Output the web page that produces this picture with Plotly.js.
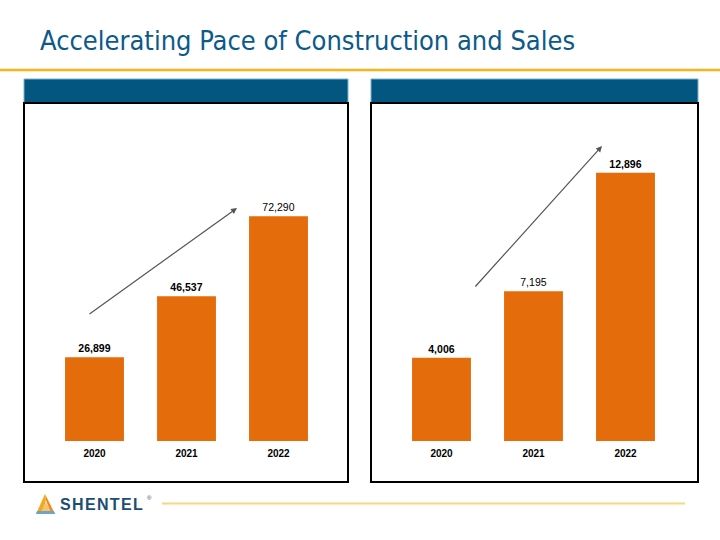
<!DOCTYPE html>
<html><head><meta charset="utf-8">
<script src="https://cdn.plot.ly/plotly-3.0.1.min.js"></script>
<style>html,body{margin:0;padding:0;background:#fff}</style>
</head><body>
<div id="chart" style="width:720px;height:540px"></div>
<script>
// ---- data ----
const years = ['2020', '2021', '2022'];
const leftValues = [26899, 46537, 72290];
const rightValues = [4006, 7195, 12896];
const leftBold = [true, true, false];
const rightBold = [true, false, true];
const chartTitle = 'Accelerating Pace of Construction and Sales';
const logoText = 'SHENTEL';

const W = 720, H = 540;
const px = v => v / W;
const py = v => 1 - v / H;
const fmt = v => v.toLocaleString('en-US');
const lbl = (vals, bold) => vals.map((v, i) => bold[i] ? '<b>' + fmt(v) + '</b>' : fmt(v));

const orange = '#E46C0A';
const font = 'Liberation Sans, Arial, sans-serif';

const traces = [
  {type: 'bar', x: years, y: leftValues, xaxis: 'x', yaxis: 'y',
   marker: {color: orange}, width: 0.64,
   text: lbl(leftValues, leftBold), textposition: 'outside', cliponaxis: false,
   textfont: {family: font, size: 10.5, color: '#000'}, hoverinfo: 'x+y'},
  {type: 'bar', x: years, y: rightValues, xaxis: 'x2', yaxis: 'y2',
   marker: {color: orange}, width: 0.64,
   text: lbl(rightValues, rightBold), textposition: 'outside', cliponaxis: false,
   textfont: {family: font, size: 10.5, color: '#000'}, hoverinfo: 'x+y'}
];

const xax = dom => ({domain: dom, type: 'category', range: [-0.5, 2.5], showgrid: false,
  zeroline: false, showline: false, ticks: '', fixedrange: true, ticklabelstandoff: 5,
  tickfont: {family: font, size: 10, color: '#000', weight: 'bold'}});
const yax = (dom, max) => ({domain: dom, range: [0, max], showgrid: false, zeroline: false,
  showline: false, showticklabels: false, ticks: '', fixedrange: true});

const layout = {
  width: W, height: H, margin: {l: 0, r: 0, t: 0, b: 0},
  paper_bgcolor: '#fff', plot_bgcolor: 'rgba(0,0,0,0)', showlegend: false,
  bargap: 0.36,
  xaxis: xax([px(48.5), px(324.5)]),
  yaxis: yax([py(441), py(130)], 100000),
  xaxis2: xax([px(395.5), px(671.5)]),
  yaxis2: yax([py(441), py(129)], 15000),
  shapes: [
    {type: 'line', xref: 'paper', yref: 'paper', x0: 0, x1: 1, y0: py(70), y1: py(70),
     line: {color: '#F5B41A', width: 2.5}},
    {type: 'rect', xref: 'paper', yref: 'paper', x0: px(24), x1: px(348), y0: py(103), y1: py(79),
     fillcolor: '#02567F', line: {color: '#7AB0D0', width: 1}},
    {type: 'rect', xref: 'paper', yref: 'paper', x0: px(371), x1: px(698), y0: py(103), y1: py(79),
     fillcolor: '#02567F', line: {color: '#7AB0D0', width: 1}},
    {type: 'rect', xref: 'paper', yref: 'paper', x0: px(24), x1: px(348), y0: py(482), y1: py(103),
     line: {color: '#000', width: 2}},
    {type: 'rect', xref: 'paper', yref: 'paper', x0: px(371), x1: px(698), y0: py(482), y1: py(103),
     line: {color: '#000', width: 2}},
    {type: 'line', xref: 'paper', yref: 'paper', x0: px(162), x1: px(685), y0: py(503.5), y1: py(503.5),
     line: {color: '#FAD67C', width: 2}},
    // logo triangle
    {type: 'path', xref: 'paper', yref: 'paper',
     path: `M ${px(45)} ${py(494)} L ${px(36)} ${py(514)} L ${px(42)} ${py(514)} L ${px(46)} ${py(500)} Z`,
     fillcolor: '#F5A81C', line: {width: 0}},
    {type: 'path', xref: 'paper', yref: 'paper',
     path: `M ${px(45)} ${py(494)} L ${px(55)} ${py(514)} L ${px(51)} ${py(514)} L ${px(46)} ${py(500)} Z`,
     fillcolor: '#F08A1C', line: {width: 0}},
    {type: 'path', xref: 'paper', yref: 'paper',
     path: `M ${px(46)} ${py(502)} L ${px(40)} ${py(514)} L ${px(52)} ${py(514)} Z`,
     fillcolor: '#F7C46A', line: {width: 0}},
    {type: 'path', xref: 'paper', yref: 'paper',
     path: `M ${px(37)} ${py(511)} L ${px(54)} ${py(511)} L ${px(55)} ${py(514)} L ${px(36)} ${py(514)} Z`,
     fillcolor: '#6AA6C9', line: {width: 0}}
  ],
  annotations: [
    {xref: 'paper', yref: 'paper', x: px(38), y: py(40), xanchor: 'left', yanchor: 'middle',
     text: chartTitle, showarrow: false,
     font: {family: 'DejaVu Sans Condensed, DejaVu Sans, sans-serif', size: 27, color: '#0B5A8A'}},
    {xref: 'paper', yref: 'paper', x: px(237), y: py(208), ax: -149, ay: 107, text: '',
     showarrow: true, arrowhead: 2, arrowsize: 1, arrowwidth: 1.2, arrowcolor: '#555'},
    {xref: 'paper', yref: 'paper', x: px(602), y: py(146), ax: -128, ay: 142, text: '',
     showarrow: true, arrowhead: 2, arrowsize: 1, arrowwidth: 1.2, arrowcolor: '#555'},
    {xref: 'paper', yref: 'paper', x: px(58), y: py(504.5), xanchor: 'left', yanchor: 'middle',
     text: '<b>' + logoText.split('').join('\u200A') + '</b>', showarrow: false,
     font: {family: 'Liberation Sans, Arial, sans-serif', size: 16, color: '#1E4D73'}},
    {xref: 'paper', yref: 'paper', x: px(145), y: py(498), xanchor: 'left', yanchor: 'middle',
     text: '®', showarrow: false,
     font: {family: font, size: 6, color: '#1E4D73'}}
  ]
};

Plotly.newPlot('chart', traces, layout, {displayModeBar: false, staticPlot: true});
</script>
</body></html>
